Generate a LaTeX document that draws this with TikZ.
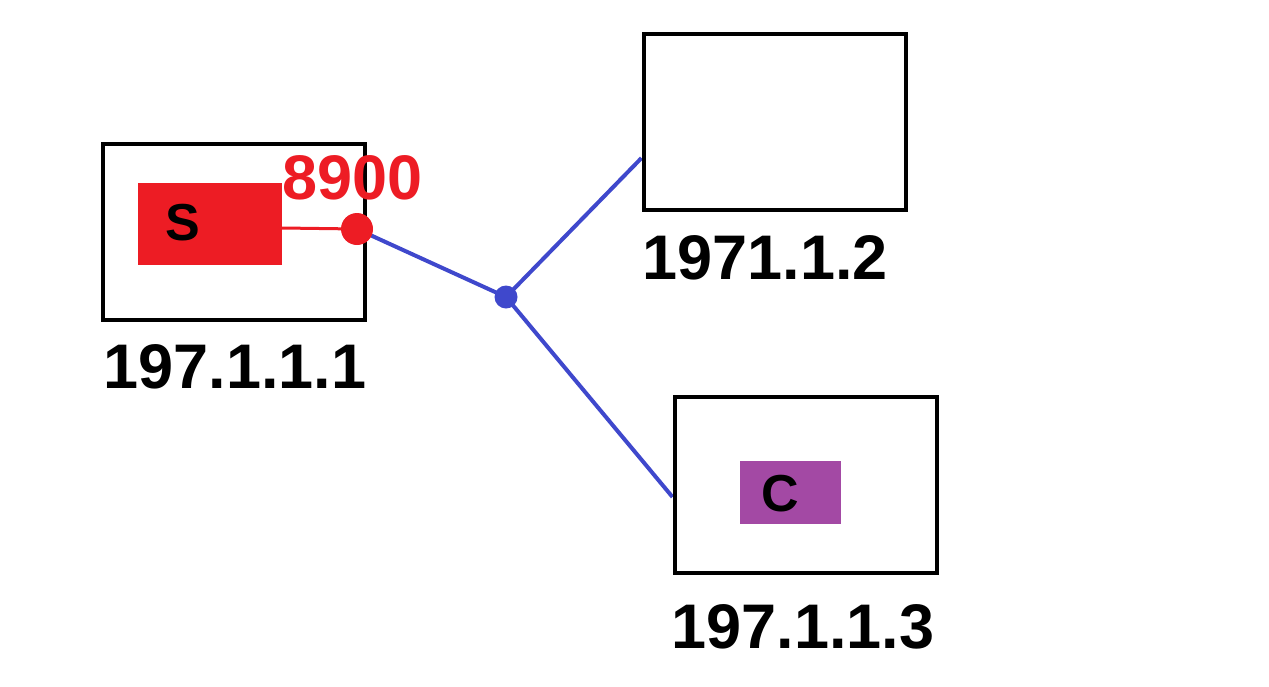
\documentclass[tikz,border=0pt]{standalone}
\usepackage{fontspec}
\setmainfont{Liberation Sans}
\usetikzlibrary{calc}
\pgfdeclarelayer{bg}
\pgfsetlayers{bg,main}
\definecolor{pred}{HTML}{ED1C24}
\definecolor{pblue}{HTML}{3F48CC}
\definecolor{ppurple}{HTML}{A349A4}

\begin{document}
\begin{tikzpicture}[x=1pt,y=-1pt,
  host/.style={draw=black,line width=4pt,minimum width=262pt,minimum height=176pt,inner sep=0pt},
  proc/.style={inner sep=0pt,outer sep=0pt},
  iplabel/.style={inner sep=0pt,font=\fontsize{63}{63}\selectfont\bfseries},
  letter/.style={inner sep=0pt,font=\fontsize{52}{52}\selectfont\bfseries},
  dot/.style={circle,inner sep=0pt,outer sep=0pt}]
\useasboundingbox (0,0) rectangle (1269,686);
% hosts
\node [host] (h1) at (234,232) {};
\node [host] (h2) at (774.5,122) {};
\node [host] (h3) at (805.5,485) {};
% processes
\node [proc,fill=pred,minimum width=144pt,minimum height=82pt] (srv) at (210,224) {};
\node [letter] (srvtxt) at (183,223) {S};
\node [proc,fill=ppurple,minimum width=101pt,minimum height=63pt] (cli) at (790.5,492.5) {};
\node [letter] (clitxt) at (780,494) {C};
% port and hub
\node [dot,fill=pred,minimum size=32pt] (port) at (357,229) {};
\node [dot,fill=pblue,minimum size=23pt] (hub) at (506,297) {};
\node [iplabel,text=pred] (portno) at (352.5,177.5) {8900};
% addresses
\node [iplabel] (ip1) at (235,367) {197.1.1.1};
\node [iplabel] (ip2) at (765,258) {1971.1.2};
\node [iplabel] (ip3) at (803,627) {197.1.1.3};
% links
\begin{pgfonlayer}{bg}
\draw [pred,line width=3pt] ([yshift=-4pt]srv.east) -- (port.center);
\draw [pblue,line width=4pt] (port.center) -- (hub.center);
\draw [pblue,line width=4pt] (hub.center) -- ([yshift=-36pt]h2.west);
\draw [pblue,line width=4pt] (hub.center) -- ([yshift=-12pt]h3.west);
\end{pgfonlayer}
\end{tikzpicture}
\end{document}
